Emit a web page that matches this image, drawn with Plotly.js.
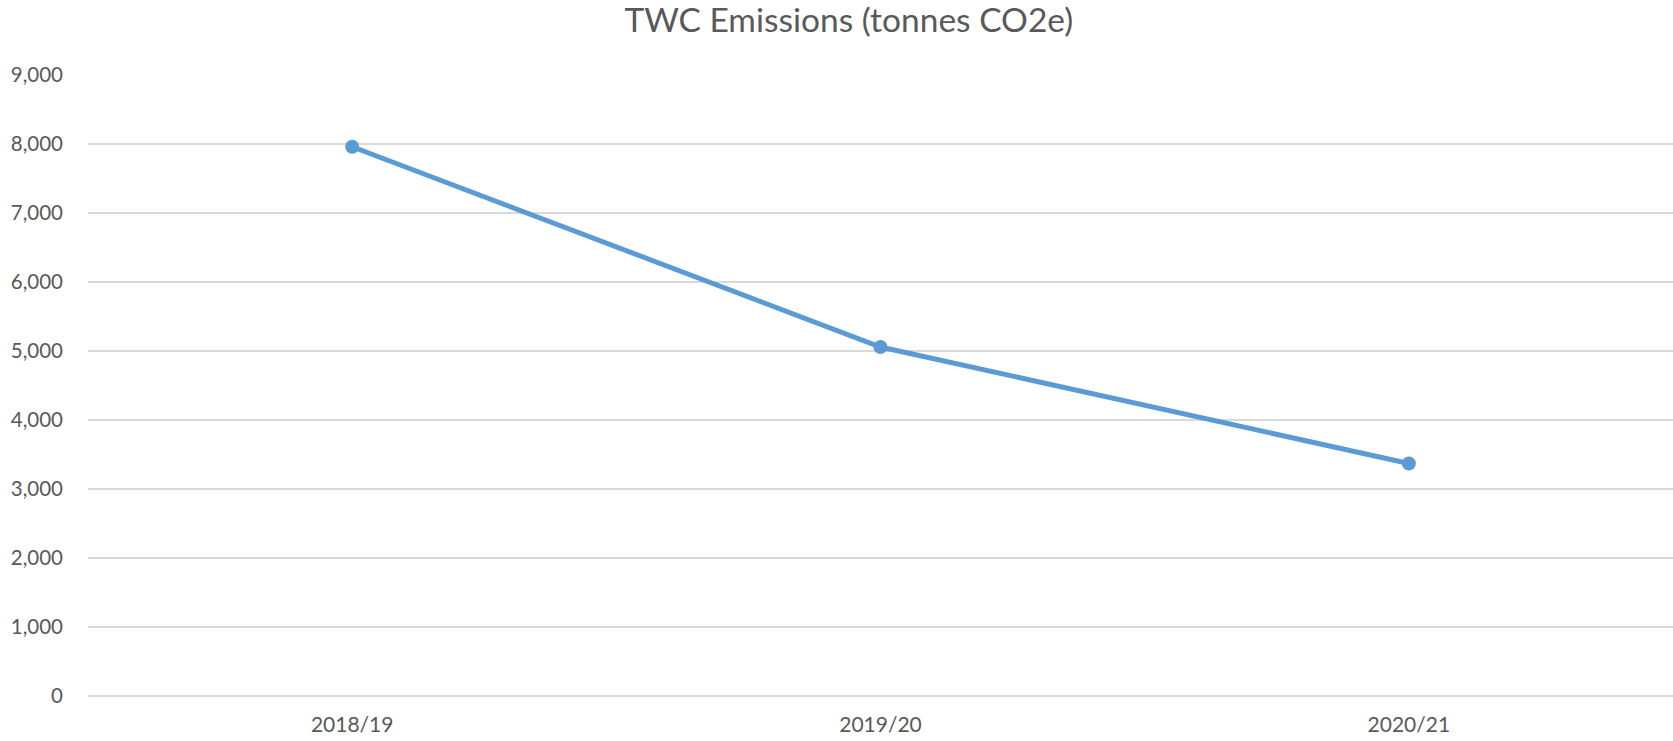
<!DOCTYPE html>
<html>
<head>
<meta charset="utf-8">
<script src="https://cdn.plot.ly/plotly-3.0.1.min.js"></script>
<style>html,body{margin:0;padding:0;background:#fff;}#chart{width:1673px;height:741px;}</style>
</head>
<body>
<div id="chart"></div>
<script>
const years = ["2018/19", "2019/20", "2020/21"];
const emissions = [7960, 5058, 3370];
const yTicks = [0, 1000, 2000, 3000, 4000, 5000, 6000, 7000, 8000, 9000];

const trace = {
  x: years,
  y: emissions,
  type: "scatter",
  mode: "lines+markers",
  line: {color: "#5B9BD5", width: 5},
  marker: {color: "#5B9BD5", size: 14},
  cliponaxis: false,
  hoverinfo: "skip"
};

const layout = {
  width: 1673,
  height: 741,
  margin: {l: 88, r: 0, t: 75, b: 45, pad: 0},
  paper_bgcolor: "#ffffff",
  plot_bgcolor: "#ffffff",
  showlegend: false,
  separators: ".,",
  font: {family: "Lato, 'Open Sans', sans-serif", color: "#595959"},
  title: {
    text: "TWC Emissions (tonnes CO2e)",
    font: {family: "Lato, 'Open Sans', sans-serif", size: 33.5, color: "#595959"},
    x: 0.48, xanchor: "center", xref: "paper",
    y: 0.973, yanchor: "middle", yref: "container"
  },
  xaxis: {
    type: "category",
    range: [-0.5, 2.5],
    showgrid: false,
    showline: false,
    zeroline: false,
    ticks: "",
    ticklabelstandoff: 14,
    tickfont: {size: 21, color: "#595959"},
    fixedrange: true
  },
  yaxis: {
    range: [0, 9000],
    tickvals: yTicks,
    tickformat: ",d",
    showgrid: true,
    gridcolor: "#D9D9D9",
    gridwidth: 1.5,
    zeroline: true,
    zerolinecolor: "#D9D9D9",
    zerolinewidth: 1.5,
    showline: false,
    ticks: "",
    ticklabelstandoff: 24,
    tickfont: {size: 20.5, color: "#595959"},
    fixedrange: true
  }
};

Plotly.newPlot("chart", [trace], layout, {displayModeBar: false, staticPlot: true});
</script>
</body>
</html>
